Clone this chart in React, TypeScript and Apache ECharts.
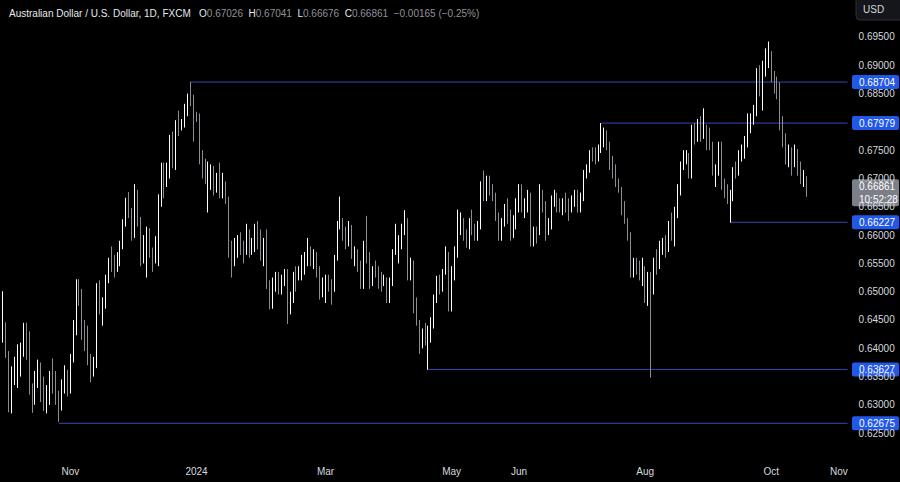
import React, { useEffect, useRef } from "react";
import * as echarts from "echarts";

// [open, high, low, close] per trading day
const sep23 = [
  [0.6365, 0.6432, 0.635, 0.6425],
  [0.6425, 0.6501, 0.641, 0.6433],
];
const oct23 = [
  [0.6433, 0.6446, 0.6383, 0.6388],
  [0.6388, 0.6395, 0.6287, 0.6323],
  [0.6323, 0.6368, 0.6285, 0.6355],
  [0.6355, 0.6385, 0.6335, 0.6371],
  [0.6371, 0.6407, 0.633, 0.6395],
  [0.6395, 0.641, 0.635, 0.64],
  [0.64, 0.6445, 0.6385, 0.6418],
  [0.6418, 0.6445, 0.638, 0.6412],
  [0.6412, 0.643, 0.6318, 0.6325],
  [0.6325, 0.6338, 0.6286, 0.6306],
  [0.6306, 0.636, 0.63, 0.634],
  [0.634, 0.638, 0.633, 0.6367],
  [0.6367, 0.6375, 0.6305, 0.6318],
  [0.6318, 0.635, 0.6289, 0.6302],
  [0.6302, 0.6335, 0.6285, 0.6315],
  [0.6315, 0.636, 0.63, 0.6348],
  [0.6348, 0.6382, 0.632, 0.6345],
  [0.6345, 0.636, 0.63, 0.6305],
  [0.6305, 0.6325, 0.627, 0.6304],
  [0.6304, 0.6345, 0.629, 0.6338],
  [0.6338, 0.637, 0.632, 0.6352],
  [0.6352, 0.6362, 0.6315, 0.634],
];
const nov23 = [
  [0.634, 0.639, 0.632, 0.6382],
  [0.6382, 0.645, 0.6375, 0.6437],
  [0.6437, 0.6522, 0.6423, 0.6509],
  [0.6509, 0.6522, 0.6475, 0.6497],
  [0.6497, 0.6505, 0.6415, 0.6433],
  [0.6433, 0.645, 0.6395, 0.6425],
  [0.6425, 0.644, 0.637, 0.6385],
  [0.6385, 0.639, 0.634, 0.6365],
  [0.6365, 0.6385, 0.635, 0.6375],
  [0.6375, 0.6515, 0.6365, 0.6508],
  [0.6508, 0.652, 0.646, 0.647],
  [0.647, 0.649, 0.644, 0.6482],
  [0.6482, 0.653, 0.647, 0.6522],
  [0.6522, 0.656, 0.6515, 0.6555],
  [0.6555, 0.658, 0.6535, 0.6545],
  [0.6545, 0.6565, 0.6525, 0.6543],
  [0.6543, 0.657, 0.6535, 0.6556],
  [0.6556, 0.659, 0.6545, 0.6581],
  [0.6581, 0.6628, 0.6575, 0.6623],
  [0.6623, 0.6666, 0.6615, 0.666],
  [0.666, 0.6676, 0.663, 0.664],
  [0.664, 0.6648, 0.659, 0.661],
];
const dec23 = [
  [0.661, 0.669, 0.6595, 0.6675],
  [0.6675, 0.668, 0.6615, 0.6627],
  [0.6627, 0.6632, 0.6545, 0.656],
  [0.656, 0.66, 0.655, 0.6565],
  [0.6565, 0.6615, 0.6525, 0.66],
  [0.66, 0.6612, 0.656, 0.657],
  [0.657, 0.6578, 0.6535, 0.6558],
  [0.6558, 0.6598, 0.655, 0.6568],
  [0.6568, 0.6672, 0.6545, 0.666],
  [0.666, 0.6728, 0.665, 0.6697],
  [0.6697, 0.6728, 0.6665, 0.6692],
  [0.6692, 0.6728, 0.6685, 0.6724],
  [0.671, 0.6777, 0.67, 0.6765],
  [0.6765, 0.6783, 0.6718, 0.6726],
  [0.6726, 0.6803, 0.6715, 0.6798],
  [0.6798, 0.682, 0.6775, 0.679],
  [0.679, 0.6805, 0.6785, 0.68],
  [0.68, 0.6832, 0.679, 0.6825],
  [0.6825, 0.685, 0.681, 0.6845],
  [0.6845, 0.6871, 0.6828, 0.6838],
  [0.6838, 0.6848, 0.6765, 0.6812],
];
const jan24 = [
  [0.6812, 0.6818, 0.68, 0.681],
  [0.681, 0.6815, 0.6725, 0.6732],
  [0.6732, 0.675, 0.67, 0.6718],
  [0.6718, 0.6735, 0.669, 0.6702],
  [0.6702, 0.673, 0.664, 0.6705],
  [0.6705, 0.6725, 0.668, 0.6713],
  [0.6713, 0.6722, 0.667, 0.6688],
  [0.6688, 0.671, 0.6675, 0.6695],
  [0.6695, 0.6728, 0.6665, 0.668],
  [0.668, 0.671, 0.6665, 0.669],
  [0.669, 0.6695, 0.6655, 0.6662],
  [0.6662, 0.6668, 0.656, 0.6575],
  [0.6575, 0.659, 0.6525, 0.6553],
  [0.6553, 0.6595, 0.6545, 0.6582],
  [0.6582, 0.66, 0.656, 0.659],
  [0.659, 0.6605, 0.6565, 0.6575],
  [0.6575, 0.659, 0.655, 0.657],
  [0.657, 0.662, 0.6565, 0.6595],
  [0.6595, 0.661, 0.656, 0.6575],
  [0.6575, 0.6595, 0.6565, 0.658],
  [0.658, 0.662, 0.657, 0.661],
  [0.661, 0.6625, 0.6575, 0.658],
  [0.658, 0.661, 0.6555, 0.6565],
];
const feb24 = [
  [0.6565, 0.6595, 0.6545, 0.6585],
  [0.6585, 0.661, 0.6505, 0.6515],
  [0.6515, 0.652, 0.6469, 0.6478],
  [0.6478, 0.6525, 0.647, 0.6518],
  [0.6518, 0.6535, 0.65, 0.6525],
  [0.6525, 0.6535, 0.6495, 0.6505],
  [0.6505, 0.653, 0.6495, 0.6528],
  [0.6528, 0.654, 0.651, 0.653],
  [0.653, 0.654, 0.6443, 0.6475],
  [0.6475, 0.65, 0.646, 0.6495],
  [0.6495, 0.6535, 0.648, 0.653],
  [0.653, 0.6545, 0.65, 0.6527],
  [0.6527, 0.6545, 0.652, 0.6535],
  [0.6535, 0.6565, 0.652, 0.6555],
  [0.6555, 0.657, 0.653, 0.6555],
  [0.6555, 0.6595, 0.6545, 0.6575],
  [0.6575, 0.658, 0.6545, 0.6555],
  [0.6555, 0.6575, 0.654, 0.656],
  [0.656, 0.657, 0.6525, 0.654],
  [0.654, 0.6545, 0.6486, 0.6495],
  [0.6495, 0.6525, 0.649, 0.651],
];
const mar24 = [
  [0.651, 0.653, 0.648, 0.6525],
  [0.6525, 0.653, 0.65, 0.6519],
  [0.6519, 0.6522, 0.6477, 0.6505],
  [0.6505, 0.6565, 0.65, 0.656],
  [0.656, 0.6625, 0.6555, 0.6618],
  [0.6618, 0.6668, 0.661, 0.6622],
  [0.6622, 0.663, 0.659, 0.6605],
  [0.6605, 0.6615, 0.6575, 0.6588],
  [0.6588, 0.6625, 0.658, 0.661],
  [0.661, 0.6618, 0.6558, 0.6565],
  [0.6565, 0.658, 0.6545, 0.6565],
  [0.6565, 0.6575, 0.6535, 0.6545],
  [0.6545, 0.6555, 0.6505, 0.6515],
  [0.6515, 0.659, 0.6505, 0.6585],
  [0.6585, 0.6634, 0.655, 0.6565],
  [0.6565, 0.657, 0.6505, 0.6515],
  [0.6515, 0.6545, 0.651, 0.654],
  [0.654, 0.6555, 0.6525, 0.6535],
  [0.6535, 0.6545, 0.6505, 0.653],
  [0.653, 0.6535, 0.65, 0.6518],
  [0.6518, 0.653, 0.651, 0.652],
];
const apr24 = [
  [0.652, 0.6525, 0.648, 0.6495],
  [0.6495, 0.6525, 0.648, 0.652],
  [0.652, 0.6575, 0.651, 0.657],
  [0.657, 0.662, 0.6565, 0.6582],
  [0.6582, 0.66, 0.655, 0.6585],
  [0.6585, 0.662, 0.6575, 0.661],
  [0.661, 0.6644, 0.66, 0.6625],
  [0.6625, 0.663, 0.652, 0.653],
  [0.653, 0.656, 0.652, 0.6545],
  [0.6545, 0.6555, 0.6462, 0.647],
  [0.647, 0.649, 0.644, 0.6445],
  [0.6445, 0.645, 0.639, 0.641],
  [0.641, 0.6435, 0.64, 0.6425],
  [0.6425, 0.6445, 0.6405, 0.6418],
  [0.6418, 0.644, 0.6362, 0.6422],
  [0.6422, 0.6455, 0.641, 0.6448],
  [0.6448, 0.6495, 0.6435, 0.649],
  [0.649, 0.6528, 0.648, 0.6515],
  [0.6515, 0.653, 0.6495, 0.651],
  [0.651, 0.654, 0.65, 0.6535],
  [0.6535, 0.658, 0.653, 0.656],
  [0.656, 0.657, 0.6465, 0.6475],
];
const may24 = [
  [0.6475, 0.6545, 0.6465, 0.654],
  [0.654, 0.658, 0.652, 0.6565],
  [0.6565, 0.6645, 0.656, 0.6615],
  [0.6615, 0.664, 0.66, 0.662],
  [0.662, 0.663, 0.659, 0.6595],
  [0.6595, 0.661, 0.6578, 0.658],
  [0.658, 0.663, 0.6575, 0.6625],
  [0.6625, 0.6645, 0.66, 0.6608],
  [0.6608, 0.662, 0.659, 0.66],
  [0.66, 0.6625, 0.659, 0.6615],
  [0.6615, 0.6695, 0.661, 0.669],
  [0.669, 0.6714, 0.666, 0.6668],
  [0.6668, 0.6705, 0.666, 0.6695],
  [0.6695, 0.6705, 0.667, 0.6675],
  [0.6675, 0.669, 0.666, 0.6665],
  [0.6665, 0.6675, 0.6625, 0.663],
  [0.663, 0.664, 0.659, 0.6598],
  [0.6598, 0.663, 0.659, 0.662],
  [0.662, 0.6655, 0.6615, 0.665],
  [0.665, 0.6665, 0.662, 0.664],
  [0.664, 0.6645, 0.659, 0.6603],
  [0.6603, 0.6635, 0.6595, 0.6625],
  [0.6625, 0.6665, 0.661, 0.665],
];
const jun24 = [
  [0.665, 0.669, 0.664, 0.6685],
  [0.6685, 0.669, 0.664, 0.6645],
  [0.6645, 0.6665, 0.663, 0.6658],
  [0.6658, 0.668, 0.664, 0.6665],
  [0.6665, 0.6675, 0.658, 0.6585],
  [0.6585, 0.6615, 0.658, 0.6608],
  [0.6608, 0.6615, 0.6585, 0.6605],
  [0.6605, 0.669, 0.66, 0.666],
  [0.666, 0.668, 0.664, 0.665],
  [0.665, 0.666, 0.659, 0.661],
  [0.661, 0.663, 0.66, 0.662],
  [0.662, 0.667, 0.661, 0.6665],
  [0.6665, 0.668, 0.665, 0.667],
  [0.667, 0.6675, 0.664, 0.6655],
  [0.6655, 0.6665, 0.664, 0.665],
  [0.665, 0.6665, 0.6635, 0.6655],
  [0.6655, 0.6675, 0.664, 0.665],
  [0.665, 0.6665, 0.6625, 0.6645],
  [0.6645, 0.667, 0.664, 0.6665],
  [0.6665, 0.668, 0.665, 0.667],
];
const jul24 = [
  [0.667, 0.668, 0.664, 0.6665],
  [0.6665, 0.6675, 0.664, 0.6668],
  [0.6668, 0.6715, 0.666, 0.6708],
  [0.6708, 0.6725, 0.67, 0.6718],
  [0.6718, 0.675, 0.671, 0.6745],
  [0.6745, 0.6755, 0.673, 0.6743],
  [0.6743, 0.6755, 0.6725, 0.674],
  [0.674, 0.676, 0.673, 0.675],
  [0.675, 0.6798, 0.6745, 0.6765],
  [0.6765, 0.679, 0.6755, 0.6775],
  [0.6775, 0.6785, 0.675, 0.6758],
  [0.6758, 0.6765, 0.6715, 0.673],
  [0.673, 0.674, 0.67, 0.6712],
  [0.6712, 0.6725, 0.6685, 0.6695],
  [0.6695, 0.67, 0.6675, 0.668],
  [0.668, 0.6685, 0.6635, 0.665],
  [0.665, 0.666, 0.662, 0.6625],
  [0.6625, 0.663, 0.659, 0.66],
  [0.66, 0.6605, 0.6525, 0.6545],
  [0.6545, 0.656, 0.6525, 0.655],
  [0.655, 0.656, 0.653, 0.654],
  [0.654, 0.6555, 0.652, 0.6535],
  [0.6535, 0.656, 0.651, 0.654],
];
const aug24 = [
  [0.654, 0.6545, 0.648, 0.6505],
  [0.6505, 0.6535, 0.6475, 0.652],
  [0.652, 0.6535, 0.6348, 0.651],
  [0.651, 0.656, 0.6495, 0.655],
  [0.655, 0.6575, 0.653, 0.6545],
  [0.6545, 0.659, 0.654, 0.658],
  [0.658, 0.6595, 0.6565, 0.6585],
  [0.6585, 0.66, 0.656, 0.658],
  [0.658, 0.6625, 0.657, 0.662],
  [0.662, 0.664, 0.659, 0.66],
  [0.66, 0.665, 0.658, 0.664],
  [0.664, 0.669, 0.663, 0.668],
  [0.668, 0.673, 0.667, 0.6725],
  [0.6725, 0.675, 0.6715, 0.674],
  [0.674, 0.675, 0.6725, 0.6745],
  [0.6745, 0.6745, 0.67, 0.671],
  [0.671, 0.6795, 0.67, 0.679],
  [0.679, 0.6798, 0.676, 0.677],
  [0.677, 0.6805, 0.6765, 0.6795],
  [0.6795, 0.681, 0.6765, 0.6785],
  [0.6785, 0.6824, 0.677, 0.679],
  [0.679, 0.6795, 0.675, 0.6765],
];
const sep24 = [
  [0.6765, 0.679, 0.675, 0.676],
  [0.676, 0.6765, 0.6705, 0.6712],
  [0.6712, 0.6725, 0.6685, 0.672],
  [0.672, 0.6765, 0.6705, 0.6745],
  [0.6745, 0.6765, 0.668, 0.669],
  [0.669, 0.67, 0.6665, 0.6685],
  [0.6685, 0.669, 0.6655, 0.6665],
  [0.6665, 0.668, 0.6622, 0.667],
  [0.667, 0.672, 0.666, 0.6715],
  [0.6715, 0.673, 0.67, 0.671],
  [0.671, 0.675, 0.6705, 0.6745],
  [0.6745, 0.676, 0.673, 0.6752],
  [0.6752, 0.6775, 0.6735, 0.6765],
  [0.6765, 0.6815, 0.6755, 0.6805],
  [0.6805, 0.6815, 0.678, 0.6805],
  [0.6805, 0.683, 0.6795, 0.682],
  [0.682, 0.6895, 0.681, 0.6885],
  [0.6885, 0.69, 0.6845, 0.6855],
  [0.6855, 0.6908, 0.682, 0.689],
  [0.689, 0.693, 0.688, 0.691],
  [0.691, 0.6942, 0.6895, 0.6915],
];
const oct24 = [
  [0.6915, 0.6925, 0.687, 0.6885],
  [0.6885, 0.689, 0.685, 0.6875],
  [0.6875, 0.688, 0.684, 0.6858],
  [0.6858, 0.687, 0.6785, 0.6795],
  [0.6795, 0.681, 0.6755, 0.6765],
  [0.6765, 0.678, 0.6725, 0.6735],
  [0.6735, 0.676, 0.672, 0.674],
  [0.674, 0.6755, 0.6705, 0.673],
  [0.673, 0.676, 0.672, 0.6748],
  [0.6748, 0.6752, 0.6705, 0.6715],
  [0.6715, 0.673, 0.669, 0.67],
  [0.67, 0.6715, 0.6685, 0.67026],
  [0.67026, 0.67041, 0.66676, 0.66861],
];

const firstDay = "2023-09-28";
const slotCount = 290;

const monthLabels: Record<string, string> = {
  "2023-11-01": "Nov",
  "2024-01-01": "2024",
  "2024-03-01": "Mar",
  "2024-05-01": "May",
  "2024-06-03": "Jun",
  "2024-08-01": "Aug",
  "2024-10-01": "Oct",
  "2024-11-01": "Nov",
};

const levelValues = [0.68704, 0.67979, 0.66227, 0.63627, 0.62675];
const levelStarts = ["2023-12-28", "2024-07-11", "2024-09-11", "2024-04-19", "2023-10-26"];

const lastClose = 0.66861;
const countdown = "10:52:28";

const FONT = "'Liberation Sans', Arial, sans-serif";
const UP = "#ffffff";
const DOWN = "#8a8d94";
const LINE_BLUE = "#3648b8";
const BOX_BLUE = "#2158e8";
const TEXT = "#d6d8de";

function weekdays(start: string, count: number): string[] {
  const out: string[] = [];
  const d = new Date(start + "T00:00:00Z");
  while (out.length < count) {
    const w = d.getUTCDay();
    if (w !== 0 && w !== 6) out.push(d.toISOString().slice(0, 10));
    d.setUTCDate(d.getUTCDate() + 1);
  }
  return out;
}

export default function App() {
  const ref = useRef<HTMLDivElement>(null);
  useEffect(() => {
    if (!ref.current) return;
    const chart = echarts.init(ref.current, null, { renderer: "svg" });
    const categories = weekdays(firstDay, slotCount);
    const bars = [
      ...sep23, ...oct23, ...nov23, ...dec23, ...jan24, ...feb24, ...mar24,
      ...apr24, ...may24, ...jun24, ...jul24, ...aug24, ...sep24, ...oct24,
    ];
    const data = bars.map(([o, h, l, c]) => [o, c, l, h]);
    const lastCat = categories[categories.length - 1];

    const levelSeries = levelValues.map((v, i) => ({
      type: "line",
      data: [
        [levelStarts[i], v],
        [lastCat, v],
      ],
      symbol: "none",
      silent: true,
      z: 1,
      lineStyle: { color: LINE_BLUE, width: 1, type: "solid" },
    }));

    chart.setOption({
      animation: false,
      backgroundColor: "#000000",
      textStyle: { fontFamily: FONT },
      title: {
        left: 4,
        top: 3,
        text:
          "{w|Australian Dollar / U.S. Dollar, 1D, FXCM}   {w|O}{g|0.67026}  {w|H}{g|0.67041}  {w|L}{g|0.66676}  {w|C}{g|0.66861}  {g|−0.00165 (−0.25%)}",
        textStyle: {
          fontSize: 10,
          fontWeight: "normal",
          fontFamily: FONT,
          rich: {
            w: { color: "#e6e8ee", fontSize: 10, fontFamily: FONT },
            g: { color: "#8f929b", fontSize: 10, fontFamily: FONT },
          },
        },
      },
      grid: { left: 0, right: 52.4, top: 0, bottom: 20.5, containLabel: false },
      xAxis: {
        type: "category",
        data: categories,
        boundaryGap: false,
        axisLine: { show: false },
        axisTick: { show: false },
        splitLine: { show: false },
        axisLabel: {
          color: TEXT,
          fontSize: 10,
          fontFamily: FONT,
          margin: 5,
          hideOverlap: false,
          interval: (_i: number, v: string) => v in monthLabels,
          formatter: (v: string) => monthLabels[v] ?? "",
        },
      },
      yAxis: {
        type: "value",
        position: "right",
        min: 0.62,
        max: 0.701537,
        interval: 0.005,
        axisLine: { show: false },
        axisTick: { show: false },
        splitLine: { show: false },
        axisLabel: {
          color: TEXT,
          fontSize: 10,
          fontFamily: FONT,
          margin: 11,
          showMaxLabel: false,
          formatter: (v: number) =>
            v > 0.698 || v < 0.622 || Math.abs(v - 0.68) < 0.0001 ? "" : v.toFixed(5),
        },
      },
      series: [
        ...levelSeries,
        {
          type: "candlestick",
          data,
          barWidth: 1.2,
          z: 2,
          itemStyle: {
            color: UP,
            color0: DOWN,
            borderColor: UP,
            borderColor0: DOWN,
            borderWidth: 1,
          },
        },
      ],
    });

    const toY = (v: number) => chart.convertToPixel({ yAxisIndex: 0 }, v) as number;
    const boxX = 852;
    const graphics: any[] = levelValues.map((v) => {
      const y = toY(v);
      return {
        type: "group",
        z: 100,
        children: [
          { type: "rect", shape: { x: boxX, y: y - 7, width: 47, height: 14, r: 2 }, style: { fill: BOX_BLUE } },
          {
            type: "text",
            x: boxX + 7,
            y,
            style: { text: v.toFixed(5), fill: "#ffffff", fontSize: 10, fontFamily: FONT, verticalAlign: "middle", align: "left" },
          },
        ],
      };
    });
    const ly = toY(lastClose);
    graphics.push({
      type: "group",
      z: 100,
      children: [
        { type: "rect", shape: { x: boxX, y: ly - 7, width: 47, height: 27, r: 2 }, style: { fill: "#7c7f88" } },
        {
          type: "text",
          x: boxX + 7,
          y: ly,
          style: { text: lastClose.toFixed(5), fill: "#ffffff", fontSize: 10, fontFamily: FONT, verticalAlign: "middle", align: "left" },
        },
        {
          type: "text",
          x: boxX + 7,
          y: ly + 13,
          style: { text: countdown, fill: "#ffffff", fontSize: 10, fontFamily: FONT, verticalAlign: "middle", align: "left" },
        },
      ],
    });
    graphics.push({
      type: "group",
      z: 100,
      children: [
        { type: "rect", shape: { x: 856, y: -5, width: 50, height: 25, r: 4 }, style: { fill: "#14161b", stroke: "#2a2e39", lineWidth: 1 } },
        {
          type: "text",
          x: 863,
          y: 9,
          style: { text: "USD", fill: TEXT, fontSize: 10, fontFamily: FONT, verticalAlign: "middle", align: "left" },
        },
      ],
    });
    chart.setOption({ graphic: graphics });

    return () => chart.dispose();
  }, []);

  return (
    <div
      ref={ref}
      style={{ position: "fixed", left: 0, top: 0, width: 900, height: 482, background: "#000" }}
    />
  );
}
